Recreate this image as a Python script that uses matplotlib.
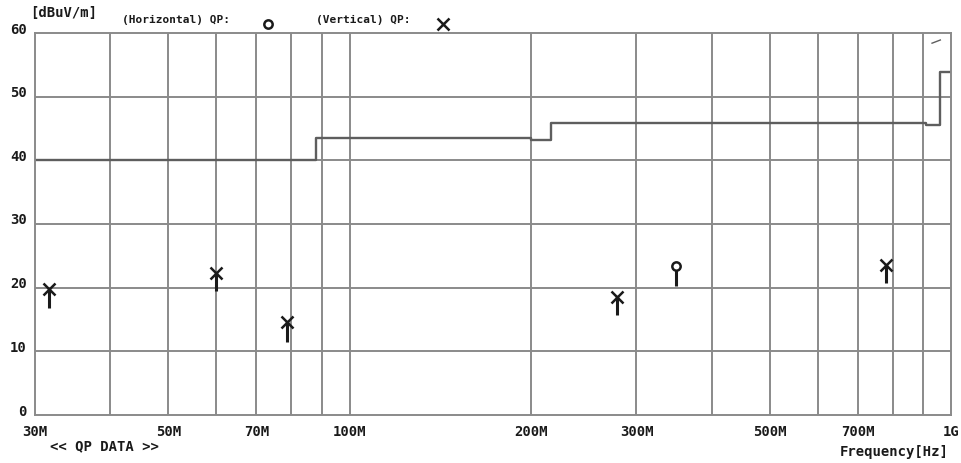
import matplotlib
matplotlib.use("Agg")
import matplotlib.pyplot as plt
import matplotlib.transforms as mtransforms
import numpy as np

# limit line (QP), stepwise
limit_freq = [30, 88, 88, 200, 200, 216, 216, 910, 910, 960, 960, 1000]
limit_level = [40, 40, 43.5, 43.5, 43.2, 43.2, 45.8, 45.8, 45.6, 45.6, 53.8, 53.8]
# short segment at the top right
seg_freq = [930, 960]
seg_level = [58.4, 58.9]

# QP results: frequency [MHz], level [dBuV/m], stem bottom
vert_freq = [31.6, 60.0, 78.8, 278.0, 780.0]
vert_level = [19.8, 22.3, 14.6, 18.6, 23.5]
vert_base = [16.8, 19.4, 11.5, 15.7, 20.7]
horiz_freq = [349.0]
horiz_level = [23.4]
horiz_base = [20.3]

grid_freq = [40, 50, 60, 70, 80, 90, 100, 200, 300, 400, 500, 600, 700, 800, 900]
xtick_freq = [30, 50, 70, 100, 200, 300, 500, 700, 1000]
xtick_labels = ["30M", "50M", "70M", "100M", "200M", "300M", "500M", "700M", "1G"]
ytick_vals = [0, 10, 20, 30, 40, 50, 60]

FONT = "DejaVu Sans Mono"
GRID_C = "#8a8a8a"
INK = "#1a1a1a"

fig = plt.figure(figsize=(9.62, 4.63), dpi=100)
ax = fig.add_axes([35 / 962, 1 - 415 / 463, 916 / 962, 382 / 463])
ax.set_xscale("log")
ax.set_xlim(30, 1000)
ax.set_ylim(0, 60)

for f in grid_freq:
    ax.axvline(f, color=GRID_C, lw=1.4, zorder=1)
for v in ytick_vals[1:-1]:
    ax.axhline(v, color=GRID_C, lw=1.4, zorder=1)

ax.plot(limit_freq, limit_level, color="#5e5e5e", lw=1.7, zorder=2)
ax.plot(seg_freq, seg_level, color="#5e5e5e", lw=1.0, zorder=2)

ax.vlines(vert_freq, vert_base, vert_level, color=INK, lw=2.2, zorder=3)
ax.plot(vert_freq, vert_level, "x", color=INK, ms=8, mew=1.8, zorder=4)
ax.vlines(horiz_freq, horiz_base, horiz_level, color=INK, lw=2.2, zorder=3)
ax.plot(horiz_freq, horiz_level, "o", color=INK, mfc="white", ms=6, mew=1.8, zorder=4)

for s in ax.spines.values():
    s.set_color(GRID_C)
    s.set_linewidth(1.4)

ax.set_xticks(xtick_freq)
ax.set_xticklabels(xtick_labels)
ax.xaxis.set_minor_locator(matplotlib.ticker.NullLocator())
ax.set_yticks(ytick_vals)
ax.tick_params(axis="x", length=0, pad=7)
ax.tick_params(axis="y", length=0, pad=6)
for lab in ax.get_xticklabels() + ax.get_yticklabels():
    lab.set_fontfamily(FONT)
    lab.set_fontweight("bold")
    lab.set_fontsize(10)
    lab.set_color(INK)
# y labels sit a little above their grid lines
lift = mtransforms.ScaledTranslation(0, 5 / 100, fig.dpi_scale_trans)
for lab in ax.get_yticklabels():
    lab.set_transform(lab.get_transform() + lift)

fig.text(30 / 962, 1 - 13 / 463, "[dBuV/m]", fontfamily=FONT, fontweight="bold",
         fontsize=10, color=INK, va="center", ha="left")
fig.text(122 / 962, 1 - 20 / 463, "(Horizontal) QP:", fontfamily=FONT, fontweight="bold",
         fontsize=8, color=INK, va="center", ha="left")
fig.text(316 / 962, 1 - 20 / 463, "(Vertical) QP:", fontfamily=FONT, fontweight="bold",
         fontsize=8, color=INK, va="center", ha="left")
fig.lines.append(plt.Line2D([268 / 962], [1 - 24 / 463], transform=fig.transFigure,
                            marker="o", ms=6, mfc="white", mec=INK, mew=1.8, ls=""))
fig.lines.append(plt.Line2D([443 / 962], [1 - 24 / 463], transform=fig.transFigure,
                            marker="x", ms=8, mec=INK, mew=1.8, ls=""))
fig.text(50 / 962, 1 - 446 / 463, "<< QP DATA >>", fontfamily=FONT, fontweight="bold",
         fontsize=10, color=INK, va="center", ha="left")
fig.text(949 / 962, 1 - 452 / 463, "Frequency[Hz]", fontfamily=FONT, fontweight="bold",
         fontsize=10, color=INK, va="center", ha="right")

fig.savefig("out.png", dpi=100)
